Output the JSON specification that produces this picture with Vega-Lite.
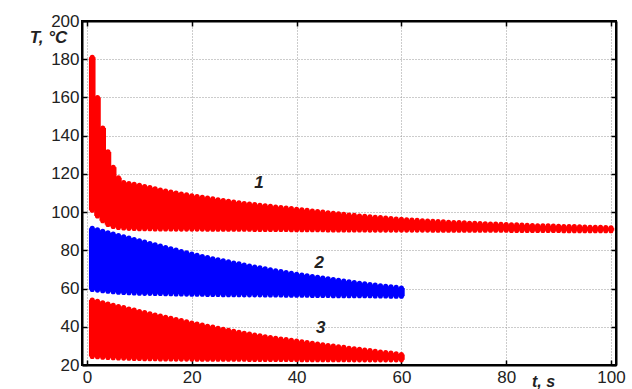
{
  "$schema": "https://vega.github.io/schema/vega-lite/v6.json",
  "autosize": "none",
  "width": 534,
  "height": 344,
  "padding": {"left": 82, "top": 21, "right": 16, "bottom": 24},
  "background": "white",
  "config": {
    "view": {"stroke": "black", "strokeWidth": 2},
    "axis": {
      "labelFont": "Liberation Sans",
      "labelFontSize": 17,
      "labelColor": "#222",
      "domainColor": "black",
      "domainWidth": 2,
      "tickColor": "black",
      "tickWidth": 1.5,
      "tickSize": -5,
      "gridColor": "#999",
      "gridDash": [1, 2],
      "gridWidth": 1,
      "titleFont": "Liberation Sans",
      "titleFontStyle": "italic",
      "titleFontWeight": "bold",
      "titleFontSize": 17,
      "titleColor": "#222"
    }
  },
  "datasets": {
    "bands": [
      {"s":"1","t":1,"lo":101,"hi":181},{"s":"1","t":2,"lo":98,"hi":160},{"s":"1","t":3,"lo":95.5,"hi":144},{"s":"1","t":4,"lo":93.5,"hi":131.5},{"s":"1","t":5,"lo":92.5,"hi":123.5},
      {"s":"1","t":6,"lo":92,"hi":118},{"s":"1","t":7,"lo":91.7,"hi":115.5},{"s":"1","t":8,"lo":91.5,"hi":115},{"s":"1","t":9,"lo":91.4,"hi":114.5},{"s":"1","t":10,"lo":91.3,"hi":114},
      {"s":"1","t":11,"lo":91.3,"hi":113.4},{"s":"1","t":12,"lo":91.3,"hi":112.8},{"s":"1","t":13,"lo":91.2,"hi":112.2},{"s":"1","t":14,"lo":91.2,"hi":111.6},{"s":"1","t":15,"lo":91.2,"hi":111},
      {"s":"1","t":16,"lo":91.2,"hi":110.5},{"s":"1","t":17,"lo":91.1,"hi":110},{"s":"1","t":18,"lo":91.1,"hi":109.5},{"s":"1","t":19,"lo":91.1,"hi":109},{"s":"1","t":20,"lo":91.1,"hi":108.5},
      {"s":"1","t":21,"lo":91.1,"hi":108.1},{"s":"1","t":22,"lo":91.1,"hi":107.7},{"s":"1","t":23,"lo":91,"hi":107.3},{"s":"1","t":24,"lo":91,"hi":106.9},{"s":"1","t":25,"lo":91,"hi":106.5},
      {"s":"1","t":26,"lo":91,"hi":106.1},{"s":"1","t":27,"lo":91,"hi":105.7},{"s":"1","t":28,"lo":91,"hi":105.3},{"s":"1","t":29,"lo":91,"hi":104.9},{"s":"1","t":30,"lo":91,"hi":104.5},
      {"s":"1","t":31,"lo":91,"hi":104.2},{"s":"1","t":32,"lo":90.9,"hi":103.9},{"s":"1","t":33,"lo":90.9,"hi":103.6},{"s":"1","t":34,"lo":90.9,"hi":103.3},{"s":"1","t":35,"lo":90.9,"hi":103},
      {"s":"1","t":36,"lo":90.9,"hi":102.7},{"s":"1","t":37,"lo":90.9,"hi":102.4},{"s":"1","t":38,"lo":90.9,"hi":102.1},{"s":"1","t":39,"lo":90.8,"hi":101.8},{"s":"1","t":40,"lo":90.8,"hi":101.5},
      {"s":"1","t":41,"lo":90.8,"hi":101.2},{"s":"1","t":42,"lo":90.8,"hi":100.9},{"s":"1","t":43,"lo":90.8,"hi":100.6},{"s":"1","t":44,"lo":90.8,"hi":100.3},{"s":"1","t":45,"lo":90.8,"hi":100},
      {"s":"1","t":46,"lo":90.7,"hi":99.7},{"s":"1","t":47,"lo":90.7,"hi":99.4},{"s":"1","t":48,"lo":90.7,"hi":99.1},{"s":"1","t":49,"lo":90.7,"hi":98.8},{"s":"1","t":50,"lo":90.7,"hi":98.5},
      {"s":"1","t":51,"lo":90.7,"hi":98.3},{"s":"1","t":52,"lo":90.7,"hi":98},{"s":"1","t":53,"lo":90.7,"hi":97.8},{"s":"1","t":54,"lo":90.6,"hi":97.5},{"s":"1","t":55,"lo":90.6,"hi":97.3},
      {"s":"1","t":56,"lo":90.6,"hi":97.1},{"s":"1","t":57,"lo":90.6,"hi":96.9},{"s":"1","t":58,"lo":90.6,"hi":96.6},{"s":"1","t":59,"lo":90.6,"hi":96.4},{"s":"1","t":60,"lo":90.6,"hi":96.2},
      {"s":"1","t":61,"lo":90.6,"hi":96},{"s":"1","t":62,"lo":90.6,"hi":95.8},{"s":"1","t":63,"lo":90.6,"hi":95.7},{"s":"1","t":64,"lo":90.6,"hi":95.5},{"s":"1","t":65,"lo":90.6,"hi":95.3},
      {"s":"1","t":66,"lo":90.5,"hi":95.2},{"s":"1","t":67,"lo":90.5,"hi":95},{"s":"1","t":68,"lo":90.5,"hi":94.9},{"s":"1","t":69,"lo":90.5,"hi":94.7},{"s":"1","t":70,"lo":90.5,"hi":94.6},
      {"s":"1","t":71,"lo":90.5,"hi":94.5},{"s":"1","t":72,"lo":90.5,"hi":94.4},{"s":"1","t":73,"lo":90.5,"hi":94.2},{"s":"1","t":74,"lo":90.5,"hi":94.1},{"s":"1","t":75,"lo":90.5,"hi":94},
      {"s":"1","t":76,"lo":90.5,"hi":93.9},{"s":"1","t":77,"lo":90.5,"hi":93.8},{"s":"1","t":78,"lo":90.5,"hi":93.7},{"s":"1","t":79,"lo":90.5,"hi":93.6},{"s":"1","t":80,"lo":90.5,"hi":93.5},
      {"s":"1","t":81,"lo":90.4,"hi":93.4},{"s":"1","t":82,"lo":90.4,"hi":93.3},{"s":"1","t":83,"lo":90.4,"hi":93.2},{"s":"1","t":84,"lo":90.4,"hi":93.1},{"s":"1","t":85,"lo":90.4,"hi":93},
      {"s":"1","t":86,"lo":90.4,"hi":92.9},{"s":"1","t":87,"lo":90.4,"hi":92.8},{"s":"1","t":88,"lo":90.4,"hi":92.8},{"s":"1","t":89,"lo":90.4,"hi":92.7},{"s":"1","t":90,"lo":90.4,"hi":92.6},
      {"s":"1","t":91,"lo":90.3,"hi":92.5},{"s":"1","t":92,"lo":90.3,"hi":92.4},{"s":"1","t":93,"lo":90.3,"hi":92.4},{"s":"1","t":94,"lo":90.3,"hi":92.3},{"s":"1","t":95,"lo":90.3,"hi":92.2},
      {"s":"1","t":96,"lo":90.3,"hi":92.1},{"s":"1","t":97,"lo":90.3,"hi":92},{"s":"1","t":98,"lo":90.3,"hi":92},{"s":"1","t":99,"lo":90.3,"hi":91.9},{"s":"1","t":100,"lo":90.3,"hi":91.8},

      {"s":"2","t":1,"lo":59.5,"hi":91.5},{"s":"2","t":2,"lo":59.2,"hi":90.7},{"s":"2","t":3,"lo":58.9,"hi":89.9},{"s":"2","t":4,"lo":58.6,"hi":89.2},{"s":"2","t":5,"lo":58.3,"hi":88.5},
      {"s":"2","t":6,"lo":58.1,"hi":87.8},{"s":"2","t":7,"lo":57.9,"hi":87.1},{"s":"2","t":8,"lo":57.8,"hi":86.4},{"s":"2","t":9,"lo":57.7,"hi":85.7},{"s":"2","t":10,"lo":57.6,"hi":85},
      {"s":"2","t":11,"lo":57.5,"hi":84.3},{"s":"2","t":12,"lo":57.5,"hi":83.6},{"s":"2","t":13,"lo":57.4,"hi":82.9},{"s":"2","t":14,"lo":57.4,"hi":82.2},{"s":"2","t":15,"lo":57.3,"hi":81.5},
      {"s":"2","t":16,"lo":57.3,"hi":80.8},{"s":"2","t":17,"lo":57.2,"hi":80.1},{"s":"2","t":18,"lo":57.2,"hi":79.4},{"s":"2","t":19,"lo":57.1,"hi":78.7},{"s":"2","t":20,"lo":57,"hi":78},
      {"s":"2","t":21,"lo":57,"hi":77.4},{"s":"2","t":22,"lo":57,"hi":76.8},{"s":"2","t":23,"lo":56.9,"hi":76.2},{"s":"2","t":24,"lo":56.9,"hi":75.6},{"s":"2","t":25,"lo":56.9,"hi":75},
      {"s":"2","t":26,"lo":56.8,"hi":74.5},{"s":"2","t":27,"lo":56.8,"hi":74},{"s":"2","t":28,"lo":56.8,"hi":73.4},{"s":"2","t":29,"lo":56.8,"hi":72.9},{"s":"2","t":30,"lo":56.7,"hi":72.3},
      {"s":"2","t":31,"lo":56.7,"hi":71.8},{"s":"2","t":32,"lo":56.7,"hi":71.3},{"s":"2","t":33,"lo":56.7,"hi":70.8},{"s":"2","t":34,"lo":56.6,"hi":70.3},{"s":"2","t":35,"lo":56.6,"hi":69.8},
      {"s":"2","t":36,"lo":56.6,"hi":69.3},{"s":"2","t":37,"lo":56.6,"hi":68.9},{"s":"2","t":38,"lo":56.5,"hi":68.4},{"s":"2","t":39,"lo":56.5,"hi":68},{"s":"2","t":40,"lo":56.5,"hi":67.5},
      {"s":"2","t":41,"lo":56.5,"hi":67.1},{"s":"2","t":42,"lo":56.5,"hi":66.7},{"s":"2","t":43,"lo":56.4,"hi":66.3},{"s":"2","t":44,"lo":56.4,"hi":65.9},{"s":"2","t":45,"lo":56.4,"hi":65.5},
      {"s":"2","t":46,"lo":56.4,"hi":65.1},{"s":"2","t":47,"lo":56.3,"hi":64.7},{"s":"2","t":48,"lo":56.3,"hi":64.3},{"s":"2","t":49,"lo":56.3,"hi":63.9},{"s":"2","t":50,"lo":56.3,"hi":63.5},
      {"s":"2","t":51,"lo":56.2,"hi":63.2},{"s":"2","t":52,"lo":56.2,"hi":62.8},{"s":"2","t":53,"lo":56.2,"hi":62.5},{"s":"2","t":54,"lo":56.2,"hi":62.1},{"s":"2","t":55,"lo":56.1,"hi":61.8},
      {"s":"2","t":56,"lo":56.1,"hi":61.5},{"s":"2","t":57,"lo":56.1,"hi":61.2},{"s":"2","t":58,"lo":56,"hi":60.9},{"s":"2","t":59,"lo":56,"hi":60.6},{"s":"2","t":60,"lo":56,"hi":60.3},

      {"s":"3","t":1,"lo":24.5,"hi":54},{"s":"3","t":2,"lo":24.3,"hi":53.3},{"s":"3","t":3,"lo":24.1,"hi":52.6},{"s":"3","t":4,"lo":23.9,"hi":51.9},{"s":"3","t":5,"lo":23.8,"hi":51.2},
      {"s":"3","t":6,"lo":23.7,"hi":50.6},{"s":"3","t":7,"lo":23.6,"hi":50},{"s":"3","t":8,"lo":23.5,"hi":49.3},{"s":"3","t":9,"lo":23.4,"hi":48.7},{"s":"3","t":10,"lo":23.4,"hi":48},
      {"s":"3","t":11,"lo":23.3,"hi":47.4},{"s":"3","t":12,"lo":23.3,"hi":46.8},{"s":"3","t":13,"lo":23.3,"hi":46.2},{"s":"3","t":14,"lo":23.2,"hi":45.6},{"s":"3","t":15,"lo":23.2,"hi":45},
      {"s":"3","t":16,"lo":23.2,"hi":44.4},{"s":"3","t":17,"lo":23.1,"hi":43.8},{"s":"3","t":18,"lo":23.1,"hi":43.2},{"s":"3","t":19,"lo":23.1,"hi":42.6},{"s":"3","t":20,"lo":23.1,"hi":42},
      {"s":"3","t":21,"lo":23,"hi":41.4},{"s":"3","t":22,"lo":23,"hi":40.9},{"s":"3","t":23,"lo":23,"hi":40.3},{"s":"3","t":24,"lo":23,"hi":39.8},{"s":"3","t":25,"lo":23,"hi":39.2},
      {"s":"3","t":26,"lo":23,"hi":38.7},{"s":"3","t":27,"lo":23,"hi":38.2},{"s":"3","t":28,"lo":23,"hi":37.6},{"s":"3","t":29,"lo":23,"hi":37.1},{"s":"3","t":30,"lo":23,"hi":36.6},
      {"s":"3","t":31,"lo":22.9,"hi":36.2},{"s":"3","t":32,"lo":22.9,"hi":35.7},{"s":"3","t":33,"lo":22.9,"hi":35.3},{"s":"3","t":34,"lo":22.9,"hi":34.8},{"s":"3","t":35,"lo":22.9,"hi":34.4},
      {"s":"3","t":36,"lo":22.9,"hi":34},{"s":"3","t":37,"lo":22.9,"hi":33.6},{"s":"3","t":38,"lo":22.9,"hi":33.3},{"s":"3","t":39,"lo":22.9,"hi":32.9},{"s":"3","t":40,"lo":22.9,"hi":32.5},
      {"s":"3","t":41,"lo":22.8,"hi":32.1},{"s":"3","t":42,"lo":22.8,"hi":31.7},{"s":"3","t":43,"lo":22.8,"hi":31.4},{"s":"3","t":44,"lo":22.8,"hi":31},{"s":"3","t":45,"lo":22.8,"hi":30.6},
      {"s":"3","t":46,"lo":22.8,"hi":30.2},{"s":"3","t":47,"lo":22.8,"hi":29.9},{"s":"3","t":48,"lo":22.8,"hi":29.5},{"s":"3","t":49,"lo":22.8,"hi":29.2},{"s":"3","t":50,"lo":22.8,"hi":28.8},
      {"s":"3","t":51,"lo":22.7,"hi":28.5},{"s":"3","t":52,"lo":22.7,"hi":28.2},{"s":"3","t":53,"lo":22.7,"hi":27.8},{"s":"3","t":54,"lo":22.7,"hi":27.5},{"s":"3","t":55,"lo":22.7,"hi":27.2},
      {"s":"3","t":56,"lo":22.7,"hi":26.8},{"s":"3","t":57,"lo":22.7,"hi":26.5},{"s":"3","t":58,"lo":22.7,"hi":26.2},{"s":"3","t":59,"lo":22.7,"hi":25.8},{"s":"3","t":60,"lo":22.7,"hi":25.5}
    ],
    "labels": [
      {"label": "1", "t": 32.8, "T": 115},
      {"label": "2", "t": 44.3, "T": 73.3},
      {"label": "3", "t": 44.6, "T": 39.4}
    ]
  },
  "layer": [
    {
      "data": {"name": "bands"},
      "mark": {"type": "bar", "width": 6.6, "clip": false},
      "encoding": {
        "x": {
          "field": "t", "type": "quantitative",
          "scale": {"domain": [0, 100], "nice": false, "zero": false},
          "axis": {
            "orient": "bottom", "values": [0, 20, 40, 60, 80, 100], "grid": true,
            "labelPadding": 9, "title": "t, s", "titleX": 461, "titleY": 21,
            "titleFontSize": 16,
            "titleAnchor": null, "titleAlign": "center", "titleBaseline": "alphabetic"
          }
        },
        "y": {
          "field": "lo", "type": "quantitative",
          "scale": {"domain": [20, 200], "nice": false, "zero": false},
          "axis": {
            "orient": "left", "values": [20, 40, 60, 80, 100, 120, 140, 160, 180, 200], "grid": true,
            "labelPadding": 8, "title": "T, °C", "titleAngle": 0, "titleX": -34, "titleY": 21,
            "titleAlign": "center", "titleBaseline": "alphabetic", "titleAnchor": null
          }
        },
        "y2": {"field": "hi"},
        "color": {
          "field": "s", "type": "nominal",
          "scale": {"domain": ["1", "2", "3"], "range": ["#ff0000", "#0000ff", "#ff0000"]},
          "legend": null
        }
      }
    },
    {
      "data": {"name": "bands"},
      "mark": {"type": "point", "shape": "circle", "filled": true, "size": 26, "opacity": 1},
      "encoding": {
        "x": {
          "field": "t", "type": "quantitative",
          "axis": {"orient": "top", "values": [0, 20, 40, 60, 80, 100], "labels": false, "grid": false, "title": null}
        },
        "y": {
          "field": "hi", "type": "quantitative",
          "axis": {"orient": "right", "values": [20, 40, 60, 80, 100, 120, 140, 160, 180, 200], "labels": false, "grid": false, "title": null}
        },
        "color": {"field": "s", "type": "nominal", "legend": null}
      }
    },
    {
      "data": {"name": "bands"},
      "mark": {"type": "point", "shape": "circle", "filled": true, "size": 26, "opacity": 1},
      "encoding": {
        "x": {"field": "t", "type": "quantitative", "axis": null},
        "y": {"field": "lo", "type": "quantitative", "axis": null},
        "color": {"field": "s", "type": "nominal", "legend": null}
      }
    },
    {
      "data": {"name": "labels"},
      "mark": {"type": "text", "font": "Liberation Sans", "fontSize": 17, "fontWeight": "bold", "fontStyle": "italic", "color": "#222", "baseline": "middle", "align": "center"},
      "encoding": {
        "x": {"field": "t", "type": "quantitative", "axis": null},
        "y": {"field": "T", "type": "quantitative", "axis": null},
        "text": {"field": "label"}
      }
    }
  ],
  "resolve": {"axis": {"x": "independent", "y": "independent"}}
}
